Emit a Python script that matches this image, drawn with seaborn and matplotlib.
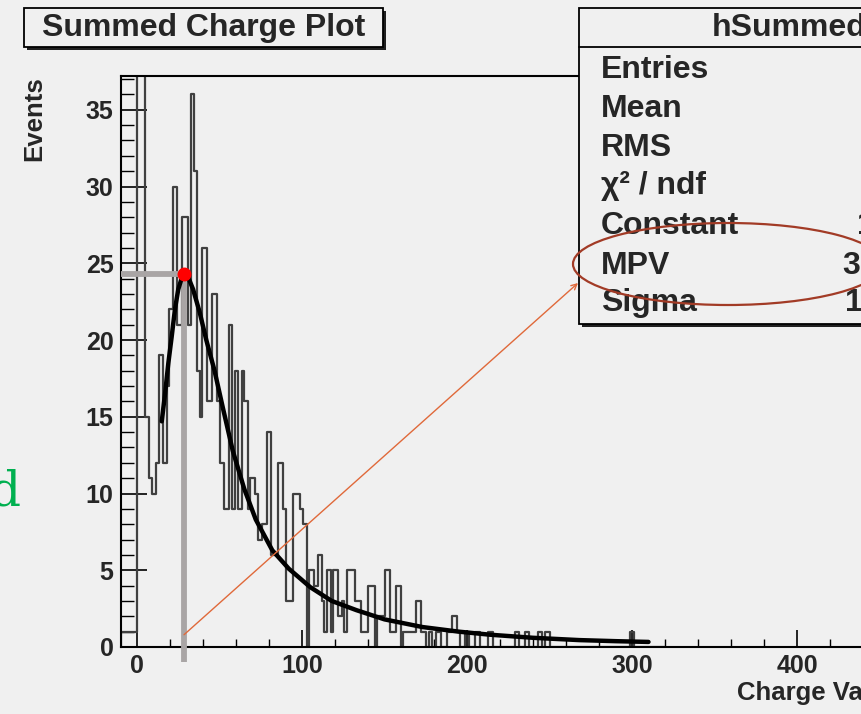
import numpy as np
import pandas as pd
import matplotlib
matplotlib.use("Agg")
import matplotlib.pyplot as plt
import seaborn as sns
from matplotlib.patches import Rectangle, Ellipse
from matplotlib.ticker import MultipleLocator

# ---------------- data ----------------
bin_edges = [-12, -10, 0, 5, 7.5, 9, 11.5, 13.5, 15.5, 18, 19.5, 22, 24, 27.5, 31, 32.5,
             34.5, 36.5, 38, 39.5, 42.5, 45.5, 48.5, 50.5, 52.5, 55.5, 57.5, 59.5, 61,
             63.5, 65, 67, 68.5, 71.5, 73.5, 75.5, 78.5, 81.5, 85.5, 88.5, 90.5, 94.5,
             98.5, 100.5, 103, 104.5, 107, 109.5, 112, 113.5, 115, 117.5, 119, 122, 124,
             125.5, 127, 132, 136, 137.5, 140, 144, 145.5, 150.5, 153.5, 157, 160, 161.5,
             169, 172, 175, 177, 179, 181, 184, 188, 191, 194, 196, 199, 201, 205, 208,
             213, 215.5, 229, 231.5, 235, 237.5, 243, 245.5, 247, 250, 299, 301.5, 320]
bin_counts = [0, 1, 40, 15, 11, 10, 12, 19, 12, 17, 22, 30, 21, 28, 21,
              36, 31, 18, 15, 26, 16, 23, 16, 12, 9, 21, 9, 18,
              9, 18, 16, 9, 11, 10, 7, 8, 14, 6, 12, 9, 3,
              10, 9, 8, 0, 5, 4, 6, 3, 1, 5, 1, 5, 2,
              3, 1, 5, 3, 1, 1, 4, 0, 2, 5, 1, 4, 0,
              1, 3, 1, 0, 1, 0, 1, 0, 1, 2, 1, 0, 1, 0,
              1, 0, 1, 0, 1, 0, 1, 0, 1, 0, 1, 0, 1, 0]
assert len(bin_counts) == len(bin_edges) - 1

fit_x = [15, 17, 19, 21, 23, 25, 27, 28.5, 31, 34, 38, 42, 47, 52, 58, 65, 72, 82,
         92, 105, 118, 133, 150, 173, 195, 214, 240, 268, 290, 310]
fit_y = [14.7, 16.5, 18.5, 20.2, 22.0, 23.3, 24.0, 24.3, 24.1, 23.3, 21.8, 20.0, 18.0,
         15.6, 12.8, 10.3, 8.3, 6.3, 5.1, 3.9, 3.0, 2.4, 1.8, 1.3, 1.0, 0.8, 0.6, 0.45,
         0.38, 0.33]

peak_x, peak_y = 28.5, 24.3
x_ticks = [0, 100, 200, 300, 400]
y_ticks = [0, 5, 10, 15, 20, 25, 30, 35]

title_text = "Summed Charge Plot"
x_label = "Charge Value"
y_label = "Events"
stats_title = "hSummedCharge"
stat_labels = ["Entries", "Mean", "RMS", "\u03c7\u00b2 / ndf", "Constant", "MPV", "Sigma"]
stat_values = {"Constant": "110.2 \u00b1 5.1", "MPV": "31.2 \u00b1 0.5", "Sigma": "11.3 \u00b1 0.3"}

# ---------------- style ----------------
BG = "#f0f0f0"
sns.set_style("white")
plt.rcParams["font.family"] = ["Liberation Sans", "DejaVu Sans"]
plt.rcParams["font.weight"] = "bold"

W, H = 862, 714
fig = plt.figure(figsize=(W / 100, H / 100), dpi=100, facecolor=BG)


def fx(px):
    return px / W


def fy(py):
    return 1 - py / H


ax_left, ax_right, ax_top, ax_bot = 120.5, 879.5, 76, 647
ax = fig.add_axes([fx(ax_left), fy(ax_bot), (ax_right - ax_left) / W, (ax_bot - ax_top) / H])
ax.set_facecolor(BG)

edges = [float(e) for e in bin_edges]
centers = [0.5 * (a + b) for a, b in zip(edges[:-1], edges[1:])]
hist_df = pd.DataFrame({"charge": centers, "events": [float(c) for c in bin_counts]})
sns.histplot(data=hist_df, x="charge", weights="events", bins=edges, element="step",
             fill=False, color="#404040", linewidth=1.6, ax=ax, zorder=2)

# gray guide lines at the peak
ax.plot([peak_x, peak_x], [-1.0, peak_y], color="#a9a5a5", lw=4.2, clip_on=False,
        solid_capstyle="butt", zorder=3)
ax.plot([-10, peak_x], [peak_y, peak_y], color="#a9a5a5", lw=4.2, clip_on=False,
        solid_capstyle="butt", zorder=3)

fit_df = pd.DataFrame({"charge": fit_x, "events": fit_y})
sns.lineplot(data=fit_df, x="charge", y="events", color="black", linewidth=3.2, ax=ax,
             sort=False, zorder=4)
ax.plot([peak_x], [peak_y], "o", color="#ff0000", markersize=9, zorder=5, clip_on=False)

ax.set_xlim(-10, 450)
ax.set_ylim(0, 37.2)
ax.set_xticks(x_ticks)
ax.set_yticks(y_ticks)
ax.xaxis.set_minor_locator(MultipleLocator(20))
ax.yaxis.set_minor_locator(MultipleLocator(1))
ax.tick_params(axis="x", which="major", direction="in", length=12, width=1.2, bottom=True,
               top=False, labelsize=18, pad=5, color="black")
ax.tick_params(axis="x", which="minor", direction="in", length=6, width=1.0, bottom=True,
               top=False, color="black")
ax.tick_params(axis="y", which="major", direction="in", length=19, width=1.2, left=True,
               right=False, labelsize=18, pad=5, color="black")
ax.tick_params(axis="y", which="minor", direction="in", length=9.5, width=1.0, left=True,
               right=False, color="black")
for s in ax.spines.values():
    s.set_color("black")
    s.set_linewidth(1.5)

ax.set_ylabel(y_label, fontsize=18.5, fontweight="bold", loc="top")
ax.yaxis.set_label_coords((55 - ax_left) / (ax_right - ax_left) - 0.012, 1.0)
ax.set_xlabel(x_label, fontsize=18.5, fontweight="bold")
ax.xaxis.label.set_ha("left")
ax.xaxis.label.set_va("center")
ax.xaxis.set_label_coords((737 - ax_left) / (ax_right - ax_left),
                          (ax_bot - 693) / (ax_bot - ax_top))

# arrow from the peak line to the stats box
ax.annotate("", xy=((578 - 137) / 1.65, (647 - 283) / 15.35), xytext=(peak_x, 0.8),
            arrowprops=dict(arrowstyle="->", color="#e0693a", lw=1.0, shrinkA=0, shrinkB=0,
                            mutation_scale=10),
            annotation_clip=False, zorder=6)

# title box
tb = (24, 8, 383, 47)
fig.add_artist(Rectangle((fx(tb[0] + 3), fy(tb[3] + 3)), (tb[2] - tb[0]) / W, (tb[3] - tb[1]) / H,
                         transform=fig.transFigure, facecolor="#202020", edgecolor="none", zorder=3))
fig.add_artist(Rectangle((fx(tb[0]), fy(tb[3])), (tb[2] - tb[0]) / W, (tb[3] - tb[1]) / H,
                         transform=fig.transFigure, facecolor=BG, edgecolor="black", lw=1.3, zorder=4))
fig.text(fx((tb[0] + tb[2]) / 2), fy(28), title_text, fontsize=23, fontweight="bold",
         ha="center", va="center", zorder=5)

# stats box
sb = (579, 8, 1000, 324)
fig.add_artist(Rectangle((fx(sb[0] + 3), fy(sb[3] + 3)), (sb[2] - sb[0]) / W, (sb[3] - sb[1]) / H,
                         transform=fig.transFigure, facecolor="#202020", edgecolor="none", zorder=3))
fig.add_artist(Rectangle((fx(sb[0]), fy(sb[3])), (sb[2] - sb[0]) / W, (sb[3] - sb[1]) / H,
                         transform=fig.transFigure, facecolor=BG, edgecolor="black", lw=1.3, zorder=4))
fig.add_artist(plt.Line2D([fx(sb[0]), fx(sb[2])], [fy(47), fy(47)], transform=fig.transFigure,
                          color="black", lw=1.3, zorder=5))
fig.text(fx(712), fy(28), stats_title, fontsize=23, fontweight="bold", ha="left", va="center", zorder=5)
row_y = [70, 109, 148, 186, 226, 266, 303]
val_x = {"Constant": 857, "MPV": 843, "Sigma": 845}
for lab, yy in zip(stat_labels, row_y):
    fig.text(fx(601), fy(yy), lab, fontsize=23, fontweight="bold", ha="left", va="center", zorder=5)
    if lab in stat_values:
        fig.text(fx(val_x[lab]), fy(yy), stat_values[lab], fontsize=23, fontweight="bold",
                 ha="left", va="center", zorder=5)

# red ellipse highlighting MPV
fig.add_artist(Ellipse((fx(728), fy(264)), 310 / W, 82 / H, transform=fig.transFigure,
                       fill=False, edgecolor="#a23b26", lw=1.6, zorder=8))

# partial green letter at the left edge
fig.text(fx(21), fy(505), "d", family=["DejaVu Serif", "Liberation Serif"], color="#00b050",
         fontsize=35, fontweight="normal", ha="right", va="baseline")

fig.savefig("out.png", dpi=100, facecolor=BG)
